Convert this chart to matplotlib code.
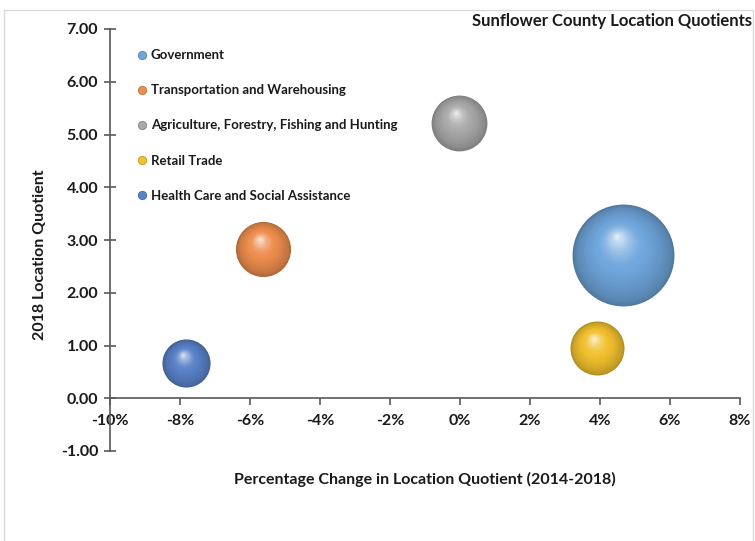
import numpy as np
import matplotlib
matplotlib.use('Agg')
import matplotlib.pyplot as plt
from matplotlib.colors import to_rgb
from matplotlib.lines import Line2D
from matplotlib.patches import Rectangle
import matplotlib.transforms as mtransforms

plt.rcParams['font.family'] = ['Lato', 'DejaVu Sans']
plt.rcParams['font.weight'] = 'bold'

# dados
industrias = ['Government', 'Transportation and Warehousing',
              'Agriculture, Forestry, Fishing and Hunting', 'Retail Trade',
              'Health Care and Social Assistance']
variacao_lq = [4.66, -5.63, -0.03, 3.91, -7.83]   # % de variação 2014-2018
lq_2018 = [2.71, 2.83, 5.22, 0.95, 0.66]
tamanho_bolha = [2600, 760, 780, 730, 580]
cores = ['#6FA6DC', '#EE8E4E', '#A9A9A9', '#F2C12E', '#5A82C8']

x_ticks = np.arange(-10, 9, 2)
y_ticks = np.arange(-1, 8, 1)


def esfera(ax, x, y, s, cor, n=40):
    # desenha uma bolha com sombreamento 3D aproximado
    base = np.array(to_rgb(cor))
    escuro = base * 0.72
    claro = 1 - (1 - base) * 0.15
    r = np.sqrt(s) / 2
    hx, hy = -0.12 * r, 0.38 * r
    for i in range(n):
        f = i / n
        if f < 0.5:
            c = escuro + (base - escuro) * (f / 0.5) ** 0.6
        else:
            c = base + (claro - base) * ((f - 0.5) / 0.5) ** 1.6
        tr = mtransforms.offset_copy(ax.transData, fig=ax.figure,
                                     x=hx * f, y=hy * f, units='points')
        ax.scatter([x], [y], s=s * (1 - f) ** 2, color=c, linewidths=0,
                   transform=tr, zorder=3 + f)


fig = plt.figure(figsize=(7.55, 5.41), dpi=100)
fig.patches.append(Rectangle((4 / 755, -0.01), 749 / 755, 1 - 5 / 541,
                             transform=fig.transFigure, fill=False,
                             edgecolor='#D9D9D9', linewidth=1))
ax = fig.add_axes([110 / 755, 90 / 541, 630 / 755, 422 / 541])

for xi, yi, si, ci in zip(variacao_lq, lq_2018, tamanho_bolha, cores):
    esfera(ax, xi, yi, si * 2.07, ci)

ax.set_xlim(-10, 8)
ax.set_ylim(-1, 7)
ax.set_xticks(x_ticks)
ax.set_yticks(y_ticks)
ax.set_xticklabels([f'{v}%' for v in x_ticks])
ax.set_yticklabels([f'{v:.2f}' for v in y_ticks])

ax.spines['top'].set_visible(False)
ax.spines['right'].set_visible(False)
ax.spines['bottom'].set_position(('data', 0))
for sp in ['left', 'bottom']:
    ax.spines[sp].set_color('#595959')
    ax.spines[sp].set_linewidth(1.2)
ax.tick_params(axis='y', direction='inout', length=9, width=1.2,
               color='#595959', labelsize=11.5, pad=4)
ax.tick_params(axis='x', direction='out', length=5, width=1.2,
               color='#595959', labelsize=11.5, pad=6)
for lbl in ax.get_xticklabels() + ax.get_yticklabels():
    lbl.set_fontweight('bold')
    lbl.set_color('#1A1A1A')

ax.set_xlabel('Percentage Change in Location Quotient (2014-2018)',
              fontsize=11.5, fontweight='bold', color='#1A1A1A')
ax.xaxis.set_label_coords(0.5, -0.05)
ax.set_ylabel('2018 Location Quotient', fontsize=11.5, fontweight='bold',
              color='#1A1A1A')
ax.yaxis.set_label_coords(-0.1, 0.465)

fig.text(0.996, 0.962, 'Sunflower County Location Quotients', ha='right',
         va='center', fontsize=12, fontweight='bold', color='#1A1A1A')

handles = [Line2D([0], [0], marker='o', linestyle='', markersize=6,
                  markerfacecolor=c, markeredgecolor=np.array(to_rgb(c)) * 0.8,
                  markeredgewidth=0.6) for c in cores]
leg = ax.legend(handles, industrias, loc='upper left',
                bbox_to_anchor=(0.025, 0.98), frameon=False, fontsize=9.5,
                labelspacing=1.75, handlelength=0.6, handletextpad=0.4)
for t in leg.get_texts():
    t.set_fontweight('bold')
    t.set_color('#1A1A1A')

fig.savefig('out.png', dpi=100)
